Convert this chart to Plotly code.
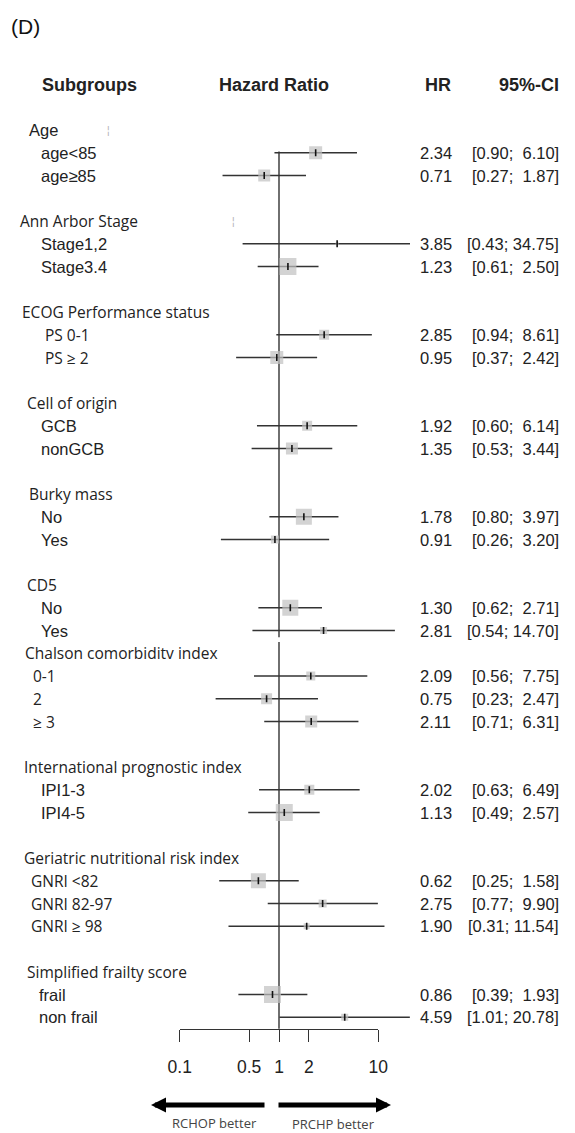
import plotly.graph_objects as go

# ---------------- data ----------------
group_names = ["Age", "Ann Arbor Stage", "ECOG Performance status", "Cell of origin",
               "Burky mass", "CD5", "Chalson comorbiditv index",
               "International prognostic index", "Geriatric nutritional risk index",
               "Simplified frailty score"]
sub_labels = [["age<85", "age≥85"], ["Stage1,2", "Stage3.4"], ["PS 0-1", "PS ≥ 2"],
              ["GCB", "nonGCB"], ["No", "Yes"], ["No", "Yes"], ["0-1", "2", "≥ 3"],
              ["IPI1-3", "IPI4-5"], ["GNRI <82", "GNRI 82-97", "GNRI ≥ 98"],
              ["frail", "non frail"]]
hr_vals = [[2.34, 0.71], [3.85, 1.23], [2.85, 0.95], [1.92, 1.35], [1.78, 0.91],
           [1.30, 2.81], [2.09, 0.75, 2.11], [2.02, 1.13], [0.62, 2.75, 1.90], [0.86, 4.59]]
ci_low = [[0.90, 0.27], [0.43, 0.61], [0.94, 0.37], [0.60, 0.53], [0.80, 0.26],
          [0.62, 0.54], [0.56, 0.23, 0.71], [0.63, 0.49], [0.25, 0.77, 0.31], [0.39, 1.01]]
ci_high = [[6.10, 1.87], [34.75, 2.50], [8.61, 2.42], [6.14, 3.44], [3.97, 3.20],
           [2.71, 14.70], [7.75, 2.47, 6.31], [6.49, 2.57], [1.58, 9.90, 11.54], [1.93, 20.78]]
weights = [[13, 12], [3, 17], [10, 13], [10, 12], [16, 8], [16, 7], [9, 11, 12],
           [10, 17], [15, 8, 6], [17, 7]]
tick_vals = [0.1, 0.5, 1, 2, 10]
tick_text = ["0.1", "0.5", "1", "2", "10"]

# ---------------- layout constants (window pixels) ----------------
WIN_W, WIN_H = 575, 1133
OX, OY = 8, 8                       # default page margin around the figure
FW, FH = WIN_W - OX, WIN_H - OY     # figure size
ROW0, STEP = 130.0, 22.75           # window pixel of first row, row pitch
PX_ONE, PX_DEC, CLIP = 279.0, 99.3, 410.0
blank_after = [1, 1, 1, 1, 1, 0, 1, 1, 1, 0]
head_x = [27, 18, 20, 25, 27, 25, 23, 22, 22, 25]
sub_x = [38.5, 38.5, 43, 38.5, 38.5, 38.5, 31, 38.5, 28.6, 37]
head_font = ["Liberation Sans"] + ["Open Sans"] * 9
sub_font = ["Liberation Sans", "Liberation Sans", "Open Sans", "Liberation Sans",
            "Liberation Sans", "Liberation Sans", "Open Sans", "Liberation Sans",
            "Open Sans", "Liberation Sans"]
ARIAL = "Liberation Sans, Arial, sans-serif"
TXT = "#222222"


def fx(px):
    return (px - OX) / FW


def fy(py):
    return 1 - (py - OY) / FH


# ---------------- build rows ----------------
annotations = []
xs_ci, ys_ci, pts_x, pts_y, pts_s = [], [], [], [], []
row = 0
first_data_row, cd5_last_row = None, None
for g, name in enumerate(group_names):
    annotations.append(dict(x=fx(head_x[g]), y=row, xref="paper", yref="y", text=name,
                            showarrow=False, xanchor="left", yanchor="middle",
                            font=dict(family=head_font[g], size=15.5 if g else 16.5, color=TXT)))
    row += 1
    for i, lab in enumerate(sub_labels[g]):
        if first_data_row is None:
            first_data_row = row
        h, lo, hi = hr_vals[g][i], ci_low[g][i], ci_high[g][i]
        xs_ci += [lo, hi, None]
        ys_ci += [row, row, None]
        pts_x.append(h)
        pts_y.append(row)
        pts_s.append(weights[g][i])
        fs = 16.5 if sub_font[g] == "Liberation Sans" else 15.5
        annotations.append(dict(x=fx(sub_x[g]), y=row, xref="paper", yref="y", text=lab,
                                showarrow=False, xanchor="left", yanchor="middle",
                                font=dict(family=sub_font[g], size=fs, color=TXT)))
        annotations.append(dict(x=fx(418), y=row, xref="paper", yref="y", text=f"{h:.2f}",
                                showarrow=False, xanchor="left", yanchor="middle",
                                font=dict(family=ARIAL, size=16.5, color=TXT)))
        annotations.append(dict(x=fx(561), y=row, xref="paper", yref="y",
                                text=f"[{lo:.2f}; {hi:5.2f}]".replace(" ", "&nbsp;"),
                                showarrow=False, xanchor="right", yanchor="middle",
                                font=dict(family=ARIAL, size=16.5, color=TXT)))
        row += 1
    if g == 5:
        cd5_last_row = row - 1
    row += blank_after[g]
last_row = row - 1 - blank_after[-1]
axis_row = last_row + 0.5

# headers
hdr_row = -2
for txt, xp, anc in [("Subgroups", 89, "center"), ("Hazard Ratio", 274, "center"),
                     ("HR", 438, "center"), ("95%-CI", 561, "right")]:
    annotations.append(dict(x=fx(xp), y=hdr_row, xref="paper", yref="y", text=f"<b>{txt}</b>",
                            showarrow=False, xanchor=anc, yanchor="middle",
                            font=dict(family=ARIAL, size=18, color=TXT)))
annotations.append(dict(x=fx(9), y=fy(26), xref="paper", yref="paper", text="(D)",
                        showarrow=False, xanchor="left", yanchor="middle",
                        font=dict(family=ARIAL, size=21, color="#111")))
# faint scan marks
annotations.append(dict(x=fx(105), y=0, xref="paper", yref="y", text="¦", showarrow=False,
                        font=dict(family=ARIAL, size=10, color="#b0b0b0")))
annotations.append(dict(x=fx(233), y=4, xref="paper", yref="y", text="¦", showarrow=False,
                        font=dict(family=ARIAL, size=10, color="#b0b0b0")))

# arrows
annotations.append(dict(x=fx(151), y=fy(1105), xref="paper", yref="paper", ax=115, ay=0,
                        axref="pixel", ayref="pixel", text="", showarrow=True, arrowhead=2,
                        arrowsize=0.6, arrowwidth=5, arrowcolor="#000"))
annotations.append(dict(x=fx(391), y=fy(1105), xref="paper", yref="paper", ax=-114, ay=0,
                        axref="pixel", ayref="pixel", text="", showarrow=True, arrowhead=2,
                        arrowsize=0.6, arrowwidth=5, arrowcolor="#000"))
annotations.append(dict(x=fx(214), y=fy(1123), xref="paper", yref="paper", text="RCHOP better",
                        showarrow=False, xanchor="center", yanchor="middle",
                        font=dict(family="Open Sans", size=13, color="#444")))
annotations.append(dict(x=fx(333), y=fy(1124), xref="paper", yref="paper", text="PRCHP better",
                        showarrow=False, xanchor="center", yanchor="middle",
                        font=dict(family="Open Sans", size=13, color="#444")))

fig = go.Figure()
# reference line at HR = 1 (with the small break seen in the original)
fig.add_trace(go.Scatter(x=[1, 1, None, 1, 1],
                         y=[first_data_row - 0.05, cd5_last_row + 0.3, None,
                            cd5_last_row + 0.5, axis_row],
                         mode="lines", line=dict(color="#222", width=1.3),
                         xaxis="x2", yaxis="y", hoverinfo="skip"))
fig.add_trace(go.Scatter(x=xs_ci, y=ys_ci, mode="lines", line=dict(color="#333", width=1.3),
                         xaxis="x2", yaxis="y", hoverinfo="skip"))
fig.add_trace(go.Scatter(x=pts_x, y=pts_y, mode="markers",
                         marker=dict(symbol="square", size=pts_s, color="#c0c0c0",
                                     line=dict(width=0)),
                         xaxis="x2", yaxis="y", hoverinfo="skip"))
fig.add_trace(go.Scatter(x=pts_x, y=pts_y, mode="markers",
                         marker=dict(symbol="line-ns-open", size=5, color="#111",
                                     line=dict(width=1.6, color="#111")),
                         xaxis="x2", yaxis="y", hoverinfo="skip"))
# empty trace so that the visible HR axis subplot exists
fig.add_trace(go.Scatter(x=[None], y=[None], xaxis="x", yaxis="y2", mode="markers",
                         hoverinfo="skip"))

axis_py = ROW0 + STEP * axis_row
fig.update_layout(
    width=FW, height=FH, margin=dict(l=0, r=0, t=0, b=0, autoexpand=False),
    paper_bgcolor="white", plot_bgcolor="rgba(0,0,0,0)", showlegend=False,
    annotations=annotations,
    yaxis=dict(range=[(FH - (ROW0 - OY)) / STEP, -(ROW0 - OY) / STEP], domain=[0, 1],
               visible=False, fixedrange=True),
    yaxis2=dict(domain=[fy(axis_py), 1], range=[0, 1], visible=False, anchor="x"),
    xaxis2=dict(type="log", domain=[0, fx(CLIP)],
                range=[(OX - PX_ONE) / PX_DEC, (CLIP - PX_ONE) / PX_DEC],
                anchor="y", visible=False),
    xaxis=dict(type="log", domain=[fx(PX_ONE - PX_DEC), fx(PX_ONE + PX_DEC)],
               range=[-1, 1], anchor="y2", side="bottom",
               showline=True, linecolor="#333", linewidth=1.3, mirror=False,
               ticks="outside", ticklen=12, tickwidth=1.3, tickcolor="#333",
               tickvals=tick_vals, ticktext=tick_text, ticklabelstandoff=10,
               tickfont=dict(family=ARIAL, size=17.5, color=TXT),
               showgrid=False, zeroline=False, automargin=False),
)
fig.write_html("out.html")
